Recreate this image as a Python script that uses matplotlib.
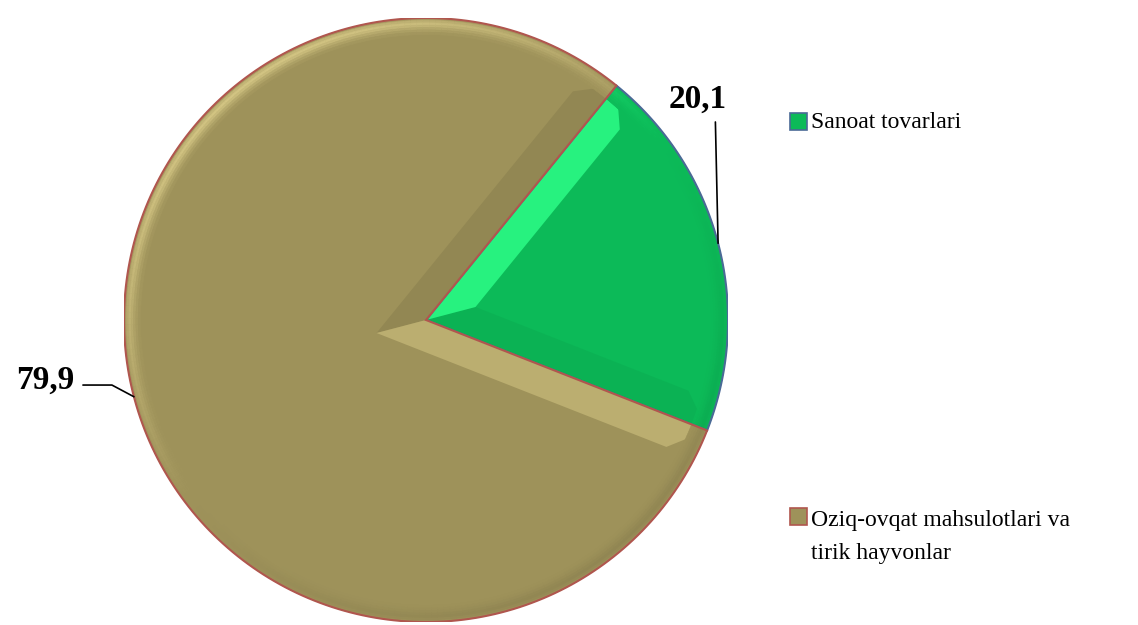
import numpy as np
import matplotlib
matplotlib.use('Agg')
import matplotlib.pyplot as plt
from matplotlib.patches import Polygon, Rectangle

plt.rcParams['font.family'] = ['Liberation Serif', 'DejaVu Serif']

categories = ['Sanoat tovarlari', 'Oziq-ovqat mahsulotlari va\ntirik hayvonlar']
values = [20.1, 79.9]
value_labels = ['20,1', '79,9']
colors = ['#0CBA58', '#9E925A']
edge_colors = ['#4A6A96', '#B0564E']

W, H = 1138, 625
fig = plt.figure(figsize=(W / 100, H / 100), dpi=100)
# pie centre ~ (426, 320) px, radius ~302 px
cx, cy, r = 426, 320, 302
ax = fig.add_axes([(cx - r) / W, (H - cy - r) / H, 2 * r / W, 2 * r / H])

wedges, _ = ax.pie(values, startangle=50.9, counterclock=False, colors=colors,
                   radius=1, wedgeprops=dict(edgecolor='none'))
ax.set_xlim(-1, 1)
ax.set_ylim(-1, 1)
ax.set_aspect('equal')
ax.axis('off')

# soft bevel, light from the top left
light = np.array([-0.6, 0.8])
b = 0.1


def shade(col, d):
    c = np.array(matplotlib.colors.to_rgb(col))
    if d > 0:
        c = np.clip(c * (1 + 0.3 * d), 0, 1)
        return tuple(c + 0.1 * d * (1 - c))
    return tuple(c * (1 + 0.08 * d))


def pt(a, rad):
    return np.array([np.cos(np.radians(a)), np.sin(np.radians(a))]) * rad


# rim brightness profile from outer edge inwards
rim_r = np.linspace(1.0, 0.945, 8)
rim_k = [0.2, 0.7, 1.0, 0.8, 0.5, 0.28, 0.1]

for w, col, ec in zip(wedges, colors, edge_colors):
    t1, t2 = w.theta1, w.theta2
    span = t2 - t1
    delta = np.degrees(np.arcsin(b / (1 - b)))
    mid = t1 + span / 2
    apex_in = pt(mid, b / np.sin(np.radians(span / 2)))
    ri = 1 - b
    n1 = pt(t1 - 90, 1)
    ax.add_patch(Polygon([(0, 0), pt(t1, 1), pt(t1 + delta, ri), apex_in],
                         facecolor=shade(col, n1 @ light), edgecolor='none'))
    n2 = pt(t2 + 90, 1)
    ax.add_patch(Polygon([(0, 0), pt(t2, 1), pt(t2 - delta, ri), apex_in],
                         facecolor=shade(col, n2 @ light), edgecolor='none'))
    angs = np.linspace(t1, t2, 240)
    for i in range(len(angs) - 1):
        n = pt((angs[i] + angs[i + 1]) / 2, 1)
        d = n @ light
        for j in range(len(rim_k)):
            fc = shade(col, rim_k[j] * d)
            ax.add_patch(Polygon([pt(angs[i], rim_r[j]), pt(angs[i + 1], rim_r[j]),
                                  pt(angs[i + 1], rim_r[j + 1]), pt(angs[i], rim_r[j + 1])],
                                 facecolor=fc, edgecolor=fc, lw=0.4))
    ax.add_patch(Polygon(np.vstack([[0, 0], [pt(a, 1) for a in angs]]),
                         closed=True, facecolor='none', edgecolor=ec, lw=1.5))

# value labels with leader lines
mids = [(w.theta1 + w.theta2) / 2 for w in wedges]
p0 = pt(mids[0], 1)
ax.annotate(value_labels[0], xy=p0, xytext=(0.90, 0.73), ha='center', va='center',
            fontsize=24, fontweight='bold',
            arrowprops=dict(arrowstyle='-', color='black', lw=1.2,
                            relpos=(0.8, 0.0), shrinkA=3, shrinkB=0))
p1 = pt(mids[1], 1)
ax.annotate(value_labels[1], xy=p1, xytext=(-1.26, -0.20), ha='center', va='center',
            fontsize=24, fontweight='bold',
            arrowprops=dict(arrowstyle='-', color='black', lw=1.2, relpos=(1.0, 0.35),
                            connectionstyle='angle,angleA=0,angleB=-28,rad=0',
                            shrinkA=4, shrinkB=0))

# legend
leg_y = [122, 517]
for cat, col, ec, y in zip(categories, colors, edge_colors, leg_y):
    fig.patches.append(Rectangle((790 / W, (H - y - 8) / H), 17 / W, 17 / H,
                                 transform=fig.transFigure, facecolor=col,
                                 edgecolor=ec, lw=1.2))
    fig.text(811 / W, (H - y + 7) / H if '\n' in cat else (H - y) / H, cat,
             fontsize=17, va='top' if '\n' in cat else 'center', linespacing=1.75)

fig.savefig('out.png', dpi=100)
